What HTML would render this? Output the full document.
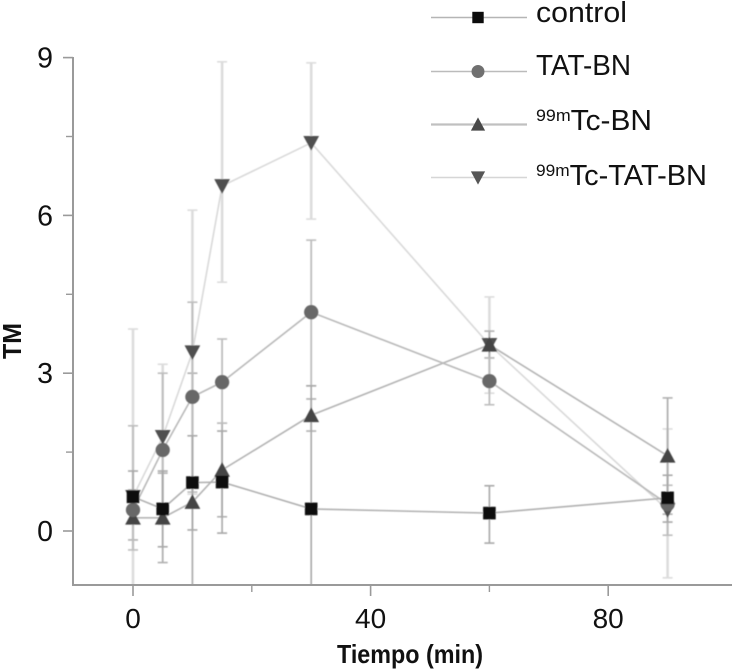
<!DOCTYPE html>
<html>
<head>
<meta charset="utf-8">
<style>
html,body{margin:0;padding:0;background:#fff;width:733px;height:669px;overflow:hidden}
svg{display:block}
text{font-family:"Liberation Sans",sans-serif;fill:#111}
</style>
</head>
<body>
<svg id="chart" width="733" height="669" viewBox="0 0 733 669" xmlns="http://www.w3.org/2000/svg">
<defs>
<clipPath id="plot-clip"><rect x="73" y="40" width="660" height="545"></rect></clipPath>
<filter id="soft" x="-5%" y="-5%" width="110%" height="110%"><feGaussianBlur stdDeviation="0.55"></feGaussianBlur></filter>
</defs>
<g id="plot" filter="url(#soft)"></g>
<g id="axes"></g>
<g id="legend"></g>
</svg>
<script>
const times = [0, 5, 10, 15, 30, 60, 90];
const seriesNames = ['99mTc-TAT-BN', '99mTc-BN', 'TAT-BN', 'control'];

const controlValues = [0.65, 0.42, 0.92, 0.93, 0.42, 0.34, 0.63];
const controlHigh = [1.14, 1.14, 1.81, 1.90, 2.76, 0.86, 1.06];
const controlLow = [0.15, -0.30, 0.02, -0.04, -1.3, -0.23, 0.17];

const tatValues = [0.40, 1.54, 2.55, 2.83, 4.16, 2.85, 0.51];
const tatHigh = [2.00, 3.00, 4.35, 3.65, 5.53, 3.29, 0.87];
const tatLow = [-0.36, 0.13, 0.74, 2.05, 2.76, 2.40, -0.08];

const tcValues = [0.25, 0.25, 0.55, 1.16, 2.20, 3.54, 1.43];
const tcHigh = [0.78, 1.10, 3.00, 2.05, 2.51, 3.80, 2.53];
const tcLow = [-0.17, -0.60, -1.3, 0.27, 1.90, 3.29, 0.32];

const tcTatValues = [0.65, 1.79, 3.40, 6.56, 7.38, 3.54, 0.40];
const tcTatHigh = [3.84, 3.17, 6.10, 8.92, 8.90, 4.45, 1.94];
const tcTatLow = [-1.3, 0.40, 0.70, 4.73, 5.93, 2.62, -0.89];

const yTickLabels = [0, 3, 6, 9];
const yMinorTicks = [1.5, 4.5, 7.5];
const xTickLabels = [0, 40, 80];
const xMinorTicks = [20, 60];

const NS = 'http://www.w3.org/2000/svg';
const xScale = function (t) { return 133 + 5.94 * t; };
const yScale = function (v) { return 531 - 52.6 * v; };

function make(tag, parent, attrs, text) {
  const el = document.createElementNS(NS, tag);
  for (const k in attrs) el.setAttribute(k, attrs[k]);
  if (text !== undefined) el.textContent = text;
  parent.appendChild(el);
  return el;
}

function marker(parent, kind, x, y, color, s) {
  let el;
  if (kind === 'square') {
    el = make('rect', parent, {x: x - 6 * s, y: y - 6 * s, width: 12 * s, height: 12 * s, fill: color});
  } else if (kind === 'circle') {
    el = make('circle', parent, {cx: x, cy: y, r: 6.8 * s, fill: color});
  } else if (kind === 'up') {
    el = make('polygon', parent, {points: (x - 7.5 * s) + ',' + (y + 6.5 * s) + ' ' + (x + 7.5 * s) + ',' + (y + 6.5 * s) + ' ' + x + ',' + (y - 7.5 * s), fill: color});
  } else {
    el = make('polygon', parent, {points: (x - 7.5 * s) + ',' + (y - 6.5 * s) + ' ' + (x + 7.5 * s) + ',' + (y - 6.5 * s) + ' ' + x + ',' + (y + 7.5 * s), fill: color});
  }
  return el;
}

const plot = document.getElementById('plot');
const axes = document.getElementById('axes');
const legend = document.getElementById('legend');

const drawList = [
  {name: seriesNames[0], vals: tcTatValues, hi: tcTatHigh, lo: tcTatLow, kind: 'down', fill: '#505050', line: '#d9d9d9', err: '#dcdcdc', errW: 2.6},
  {name: seriesNames[1], vals: tcValues, hi: tcHigh, lo: tcLow, kind: 'up', fill: '#444444', line: '#b4b4b4', err: '#b0b0b0', errW: 1.8},
  {name: seriesNames[2], vals: tatValues, hi: tatHigh, lo: tatLow, kind: 'circle', fill: '#686868', line: '#b9b9b9', err: '#bdbdbd', errW: 1.8},
  {name: seriesNames[3], vals: controlValues, hi: controlHigh, lo: controlLow, kind: 'square', fill: '#0c0c0c', line: '#b0b0b0', err: '#a8a8a8', errW: 1.6}
];

drawList.forEach(function (s) {
  const g = make('g', plot, {'clip-path': 'url(#plot-clip)'});
  
  
  times.forEach(function (t, i) {
    const x = xScale(t);
    const line = make('line', g, {x1: x, x2: x, y1: yScale(s.hi[i]), y2: yScale(s.lo[i]), stroke: s.err, 'stroke-width': s.errW});
    
    
    [s.hi[i], s.lo[i]].forEach(function (v) {
      const cap = make('line', g, {x1: x - 5, x2: x + 5, y1: yScale(v), y2: yScale(v), stroke: s.err, 'stroke-width': 1.6});
      
      
    });
  });
});

drawList.forEach(function (s) {
  const pts = times.map(function (t, i) { return xScale(t) + ',' + yScale(s.vals[i]); }).join(' ');
  const line = make('polyline', plot, {points: pts, fill: 'none', stroke: s.line, 'stroke-width': 1.6});
  
  
});

drawList.forEach(function (s) {
  times.forEach(function (t, i) {
    const m = marker(plot, s.kind, xScale(t), yScale(s.vals[i]), s.fill, 1.05);
    
    
  });
});

const axisColor = '#9a9a9a';
const yAxisLine = make('line', axes, {x1: 73, x2: 73, y1: 57, y2: 586, stroke: axisColor, 'stroke-width': 2});


const xAxisLine = make('line', axes, {x1: 72, x2: 732, y1: 585, y2: 585, stroke: axisColor, 'stroke-width': 2});



yTickLabels.forEach(function (v) {
  const y = yScale(v);
  const tick = make('line', axes, {x1: 63, x2: 73, y1: y, y2: y, stroke: axisColor, 'stroke-width': 1.6});
  
  
  const label = make('text', axes, {x: 53, y: y + 10, 'text-anchor': 'end', 'font-size': 28.5}, String(v));
  
  
});
yMinorTicks.forEach(function (v) {
  const y = yScale(v);
  const tick = make('line', axes, {x1: 66, x2: 73, y1: y, y2: y, stroke: axisColor, 'stroke-width': 1.4});
  
  
});
xTickLabels.forEach(function (v) {
  const x = xScale(v);
  const tick = make('line', axes, {x1: x, x2: x, y1: 585, y2: 596, stroke: axisColor, 'stroke-width': 1.6});
  
  
  const label = make('text', axes, {x: x, y: 628, 'text-anchor': 'middle', 'font-size': 28}, String(v));
  
  
});
xMinorTicks.forEach(function (v) {
  const x = xScale(v);
  const tick = make('line', axes, {x1: x, x2: x, y1: 585, y2: 592, stroke: axisColor, 'stroke-width': 1.4});
  
  
});

const xTitle = make('text', axes, {x: 337, y: 663, 'font-size': 26, 'font-weight': 'bold', textLength: 146, lengthAdjust: 'spacingAndGlyphs'}, 'Tiempo (min)');


const yTitle = make('text', axes, {x: 0, y: 0, 'font-size': 26, 'font-weight': 'bold', 'text-anchor': 'middle', transform: 'translate(21 341) rotate(-90)', textLength: 36, lengthAdjust: 'spacingAndGlyphs'}, 'TM');



const legendLabels = ['control', 'TAT-BN', 'Tc-BN', 'Tc-TAT-BN'];
const legendSup = ['', '', '99m', '99m'];
const legendKinds = ['square', 'circle', 'up', 'down'];
const legendFills = ['#0c0c0c', '#707070', '#484848', '#565656'];
const legendLineColors = ['#b5b5b5', '#bbbbbb', '#c0c0c0', '#d6d6d6'];
const legendLineY = [17.5, 71.5, 124.5, 177.5];
const legendTextY = [22, 75, 130, 185];
const legendWidths = [91, 95, 116, 171];

legendLabels.forEach(function (label, i) {
  const y = legendLineY[i];
  const line = make('line', legend, {x1: 431, x2: 527, y1: y, y2: y, stroke: legendLineColors[i], 'stroke-width': i === 2 ? 2.2 : 1.6});
  
  
  const m = marker(legend, legendKinds[i], 478, y, legendFills[i], 0.95);
  
  
  const t = make('text', legend, {x: 536, y: legendTextY[i], 'font-size': 28.5, textLength: legendWidths[i], lengthAdjust: 'spacingAndGlyphs'});
  
  
  if (legendSup[i]) {
    make('tspan', t, {'font-size': 17, dy: -9}, legendSup[i]);
    make('tspan', t, {dy: 9}, label);
  } else {
    t.textContent = label;
  }
});
</script>
</body>
</html>
